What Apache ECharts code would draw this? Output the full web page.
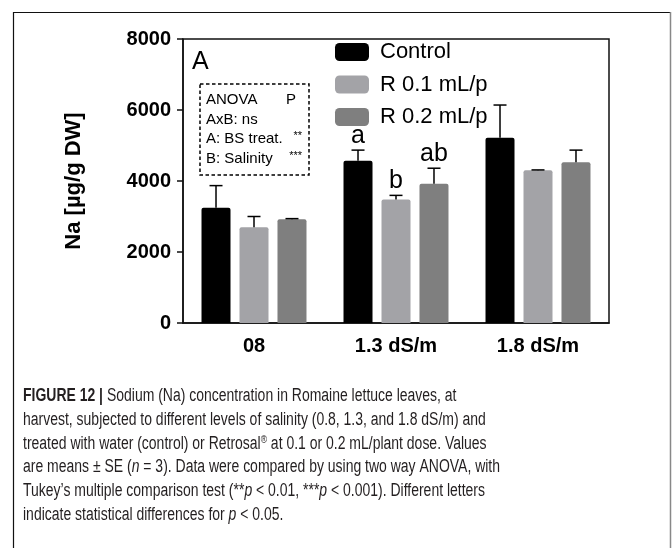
<!DOCTYPE html>
<html>
<head>
<meta charset="utf-8">
<script src="https://cdn.jsdelivr.net/npm/echarts@6/dist/echarts.min.js"></script>
<style>
html,body{margin:0;padding:0;background:#fff;}
#c{width:672px;height:548px;}
</style>
</head>
<body>
<div id="c"></div>
<script>
// ---- data ----
var categories = ['08', '1.3 dS/m', '1.8 dS/m'];
var seriesNames = ['Control', 'R 0.1 mL/p', 'R 0.2 mL/p'];
var controlMean = [3250, 4570, 5220];
var r01Mean = [2700, 3480, 4300];
var r02Mean = [2920, 3920, 4530];
var controlSE = [620, 300, 920];
var r01SE = [300, 115, 12];
var r02SE = [20, 440, 340];
var controlLetters = ['', 'a', ''];
var r01Letters = ['', 'b', ''];
var r02Letters = ['', 'ab', ''];
var yTicks = [0, 2000, 4000, 6000, 8000];
var anovaLines = [['ANOVA', 'P'], ['AxB: ns', ''], ['A: BS treat.', '**'], ['B: Salinity', '***']];
var captionLines = [
  '{b|FIGURE 12 |} Sodium (Na) concentration in Romaine lettuce leaves, at',
  'harvest, subjected to different levels of salinity (0.8, 1.3, and 1.8 dS/m) and',
  'treated with water (control) or Retrosal{sup|®} at 0.1 or 0.2 mL/plant dose. Values',
  'are means \u00b1 SE ({i|n} = 3). Data were compared by using two way ANOVA, with',
  'Tukey\u2019s multiple comparison test (**{i|p} < 0.01, ***{i|p} < 0.001). Different letters',
  'indicate statistical differences for {i|p} < 0.05.'
];

var colors = ['#000000', '#a3a3a7', '#7f7f7f'];
var means = [controlMean, r01Mean, r02Mean];
var ses = [controlSE, r01SE, r02SE];
var letters = [controlLetters, r01Letters, r02Letters];
var BAR_W = 29, BAR_GAP = '31%';

var chart = echarts.init(document.getElementById('c'), null, {renderer: 'canvas'});
var FONT = 'Liberation Sans';

// condensed caption: measure reference line width to derive horizontal scale
var CAP_SIZE = 18;
var mctx = document.createElement('canvas').getContext('2d');
mctx.font = CAP_SIZE + 'px "Liberation Sans"';
var refLine = 'are means \u00b1 SE (n = 3). Data were compared by using two way ANOVA, with';
var capScale = 477 / mctx.measureText(refLine).width;

var series = [];
means.forEach(function (m, si) {
  series.push({
    name: seriesNames[si],
    type: 'bar',
    data: m,
    barWidth: BAR_W,
    barGap: BAR_GAP,
    itemStyle: {color: colors[si], borderRadius: [2, 2, 0, 0]},
    z: 2
  });
});
means.forEach(function (m, si) {
  var data = m.map(function (v, i) { return [i, v, ses[si][i], letters[si][i]]; });
  series.push({
    type: 'custom',
    z: 5,
    silent: true,
    data: data,
    encode: {x: 0, y: 1},
    renderItem: function (params, api) {
      var idx = api.value(0), v = api.value(1), se = api.value(2);
      var lay = api.barLayout({count: 3, barWidth: BAR_W, barGap: BAR_GAP});
      var off = lay[si].offsetCenter;
      var base = api.coord([idx, v]);
      var top = api.coord([idx, v + se]);
      var x = base[0] + off;
      var hw = 6.5;
      var children = [
        {type: 'line', shape: {x1: x, y1: base[1], x2: x, y2: top[1]}, style: {stroke: '#000', lineWidth: 1.5}},
        {type: 'line', shape: {x1: x - hw, y1: top[1], x2: x + hw, y2: top[1]}, style: {stroke: '#000', lineWidth: 1.5}}
      ];
      var letter = data[params.dataIndex][3];
      if (letter) {
        children.push({type: 'text', style: {text: letter, x: x, y: top[1] - 2, align: 'center', verticalAlign: 'bottom', fontSize: 25, fontFamily: FONT, fill: '#000'}});
      }
      return {type: 'group', children: children};
    }
  });
});

var graphics = [
  {type: 'polyline', shape: {points: [[13.5, 548], [13.5, 12.5], [670, 12.5]]}, style: {stroke: '#111', lineWidth: 1.2, fill: null}, silent: true},
  {type: 'line', shape: {x1: 670.5, y1: 12, x2: 670.5, y2: 548}, style: {stroke: '#888', lineWidth: 1.5}, silent: true},
  {type: 'text', style: {text: 'A', x: 192, y: 62, verticalAlign: 'middle', fontSize: 25, fontFamily: FONT, fill: '#000'}},
  {type: 'rect', shape: {x: 200, y: 84, width: 109, height: 91}, style: {fill: null, stroke: '#000', lineWidth: 1.5, lineDash: [3.5, 2.5]}}
];
anovaLines.forEach(function (l, i) {
  var y = 100 + i * 19.6;
  graphics.push({type: 'text', style: {text: l[0], x: 206, y: y, verticalAlign: 'middle', fontSize: 15, fontFamily: FONT, fill: '#000'}});
  if (l[1]) {
    var small = l[1].indexOf('*') >= 0;
    graphics.push({type: 'text', style: {text: l[1], x: small ? 302 : 296, y: small ? y - 3 : y, align: 'right', verticalAlign: 'middle', fontSize: small ? 11 : 15, fontFamily: FONT, fill: '#000'}});
  }
});
captionLines.forEach(function (t, i) {
  graphics.push({type: 'text', x: 23, y: 396 + i * 23.8, scaleX: capScale, style: {
    text: t, x: 0, y: 0, verticalAlign: 'middle',
    fontSize: CAP_SIZE, fontFamily: FONT, fill: '#231f20',
    rich: {
      b: {fontWeight: 'bold', fontSize: CAP_SIZE, fontFamily: FONT, fill: '#231f20'},
      i: {fontStyle: 'italic', fontSize: CAP_SIZE, fontFamily: FONT, fill: '#231f20'},
      sup: {fontSize: 11, verticalAlign: 'top', fontFamily: FONT, fill: '#231f20', padding: [0, 0, 6, 0]}
    }
  }});
});

chart.setOption({
  animation: false,
  backgroundColor: '#fff',
  grid: {left: 183, right: 63, top: 39, bottom: 225, show: true, borderColor: '#111', borderWidth: 1.5, containLabel: false},
  legend: {
    data: seriesNames, orient: 'vertical', left: 330, top: 36,
    itemWidth: 34, itemHeight: 18, itemGap: 10.5, icon: 'roundRect',
    textStyle: {fontSize: 22, fontFamily: FONT, color: '#000', lineHeight: 22, padding: [0, 0, 0, 6]}
  },
  xAxis: {
    type: 'category', data: categories,
    axisLine: {lineStyle: {color: '#111', width: 1.5}},
    axisTick: {alignWithLabel: true, length: 7, lineStyle: {color: '#111', width: 1.5}},
    axisLabel: {fontSize: 20, fontWeight: 'bold', fontFamily: FONT, color: '#000', margin: 13}
  },
  yAxis: {
    type: 'value', min: yTicks[0], max: yTicks[yTicks.length - 1], interval: yTicks[1] - yTicks[0],
    name: 'Na [\u00b5g/g DW]', nameLocation: 'middle', nameGap: 98, nameRotate: 90,
    nameTextStyle: {fontSize: 22, fontWeight: 'bold', fontFamily: FONT, color: '#000'},
    axisLine: {show: true, lineStyle: {color: '#111', width: 1.5}},
    axisTick: {show: true, length: 6, lineStyle: {color: '#111', width: 1.5}},
    splitLine: {show: false},
    axisLabel: {fontSize: 20, fontWeight: 'bold', fontFamily: FONT, color: '#000', margin: 12,
      formatter: function (v) { return String(v); }}
  },
  series: series,
  graphic: graphics
});
</script>
</body>
</html>
